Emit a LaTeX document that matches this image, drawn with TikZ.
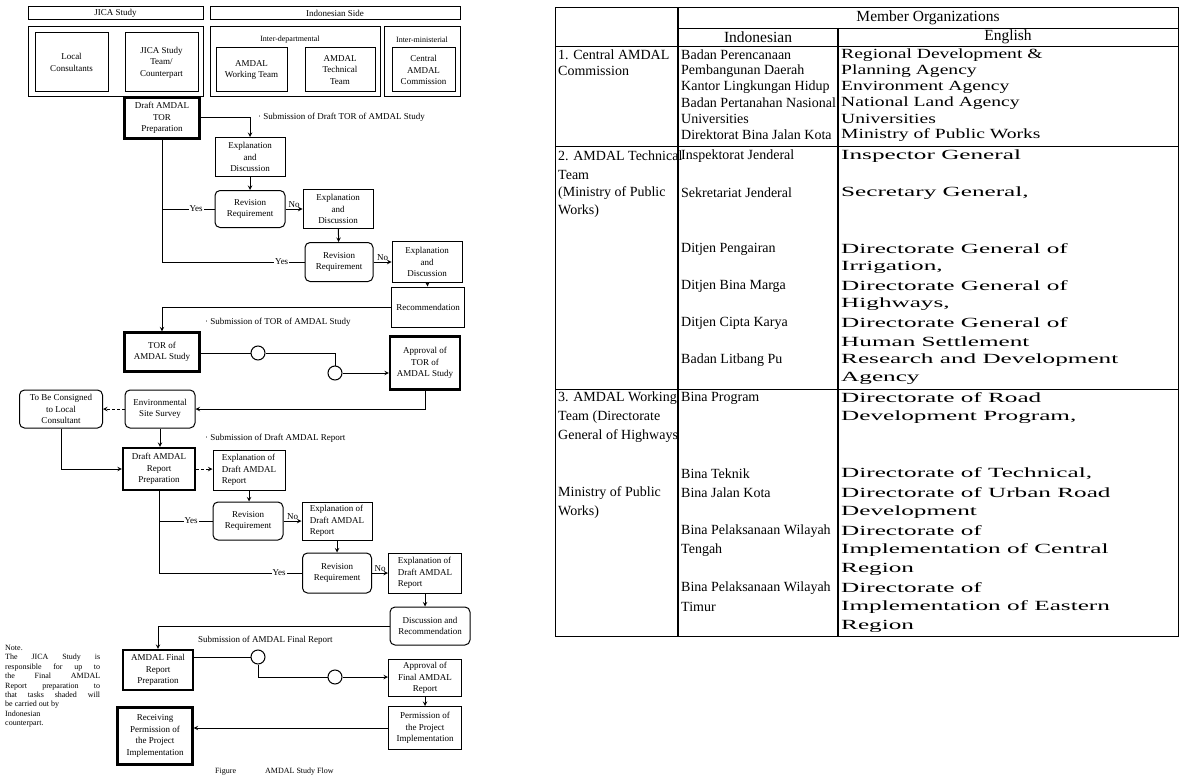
\documentclass[tikz,border=0pt]{standalone}
\usepackage{fontspec}
\setmainfont{Liberation Serif}
\newfontfamily\engfont[FakeStretch=1.8]{Liberation Serif}
\newfontfamily\engfontone[FakeStretch=1.4]{Liberation Serif}
\usetikzlibrary{arrows,positioning,calc}

\newcommand{\flowfont}{\fontsize{9}{11.5}\selectfont}
\newcommand{\smallflow}{\fontsize{8}{9.4}\selectfont}
\newcommand{\tabfont}{\fontsize{14}{16}\selectfont}

\begin{document}
\begin{tikzpicture}[x=1pt, y=-1pt, >=stealth,
    box/.style={draw, line width=1pt, align=center, inner sep=1pt, font=\flowfont},
    rbox/.style={box, rounded corners=5pt},
    tbox/.style={box, line width=2.2pt},
    joint/.style={draw, circle, line width=1pt, minimum size=14pt, inner sep=0pt},
    link/.style={line width=1pt},
    yes/.style={fill=white, inner sep=1pt, font=\flowfont},
    no/.style={above, inner sep=1pt, font=\flowfont},
    lbl/.style={anchor=west, inner sep=0pt, font=\flowfont},
    cell/.style={anchor=west, inner sep=0pt, font=\tabfont},
    ecell/.style={cell, font=\tabfont\engfont},
    ecellone/.style={cell, font=\tabfont\engfontone},
    head/.style={inner sep=0pt, font=\fontsize{15.5}{17}\selectfont}]
    \useasboundingbox (0,0) rectangle (1181,781);

    % Organisation headers
    \node[box, minimum width=175pt, minimum height=13pt] (jicahd) at (115.5,13.5) {JICA Study};
    \node[box, minimum width=250pt, minimum height=13pt] (indohd) at (335,13.5) {Indonesian Side};
    \node[box, minimum width=175pt, minimum height=70pt] (jicagrp) at (115.5,62) {};
    \node[box, minimum width=170pt, minimum height=70pt] (deptgrp) at (295,62) {};
    \node[box, minimum width=76pt, minimum height=70pt] (minigrp) at (422,62) {};
    \node[font=\smallflow] (deptlbl) at (290,40) {Inter-departmental};
    \node[font=\smallflow] (minilbl) at (422,40) {Inter-ministerial};
    \node[box, minimum width=73pt, minimum height=59pt] (locc) at (71.5,62.5) {Local\\Consultants};
    \node[box, minimum width=73pt, minimum height=59pt] (jicat) at (161.5,62.5) {JICA Study\\Team/\\Counterpart};
    \node[box, minimum width=71pt, minimum height=44pt] (awt) at (251.5,70) {AMDAL\\Working Team};
    \node[box, minimum width=70pt, minimum height=44pt] (att) at (340,70) {AMDAL\\Technical\\Team};
    \node[box, minimum width=63pt, minimum height=44pt] (cac) at (423.5,70) {Central\\AMDAL\\Commission};

    % TOR stage
    \node[tbox, minimum width=75pt, minimum height=41pt] (tordraft) at (162,118) {Draft AMDAL\\TOR\\Preparation};
    \node[box, minimum width=70pt, minimum height=39pt] (expl1) at (250,157) {Explanation\\and\\Discussion};
    \node[rbox, minimum width=70pt, minimum height=37pt] (rev1) at (250,209) {Revision\\Requirement};
    \node[box, minimum width=70pt, minimum height=39pt] (expl2) at (338,209) {Explanation\\and\\Discussion};
    \node[rbox, minimum width=68pt, minimum height=39pt] (rev2) at (339,262) {Revision\\Requirement};
    \node[box, minimum width=70pt, minimum height=41pt] (expl3) at (427,262) {Explanation\\and\\Discussion};
    \node[box, minimum width=73pt, minimum height=40pt] (recomm) at (428,307) {Recommendation};
    \node[tbox, minimum width=75pt, minimum height=39pt] (tor) at (162,352) {TOR of\\AMDAL Study};
    \node[joint] (c1) at (258,353) {};
    \node[joint] (c2) at (335,373) {};
    \node[tbox, minimum width=70pt, minimum height=53pt] (apptor) at (425,363) {Approval of\\TOR of\\AMDAL Study};
    \node[lbl] (subtor1) at (258,117) {· Submission of Draft TOR of AMDAL Study};
    \node[lbl] (subtor2) at (205,322) {· Submission of TOR of AMDAL Study};

    % Report stage
    \node[rbox, minimum width=70pt, minimum height=38pt] (envsurv) at (160,409) {Environmental\\Site Survey};
    \node[rbox, minimum width=83pt, minimum height=38pt] (consign) at (61,409) {To Be Consigned\\to Local\\Consultant};
    \node[tbox, minimum width=72pt, minimum height=42pt] (rptdraft) at (159,469) {Draft AMDAL\\Report\\Preparation};
    \node[box, minimum width=72pt, minimum height=40pt, align=left] (rexpl1) at (249,470) {Explanation of\\Draft AMDAL\\Report};
    \node[rbox, minimum width=70pt, minimum height=38pt] (rev3) at (248,521) {Revision\\Requirement};
    \node[box, minimum width=70pt, minimum height=38pt, align=left] (rexpl2) at (337,521) {Explanation of\\Draft AMDAL\\Report};
    \node[rbox, minimum width=69pt, minimum height=40pt] (rev4) at (337,573) {Revision\\Requirement};
    \node[box, minimum width=73pt, minimum height=40pt, align=left] (rexpl3) at (425,573) {Explanation of\\Draft AMDAL\\Report};
    \node[rbox, minimum width=80pt, minimum height=38pt] (discrec) at (430,626) {Discussion and\\Recommendation};
    \node[lbl] (subrpt) at (205,438) {· Submission of Draft AMDAL Report};

    % Final stage
    \node[tbox, minimum width=70pt, minimum height=40pt] (finrpt) at (158,670) {AMDAL Final\\Report\\Preparation};
    \node[joint] (c3) at (258,657) {};
    \node[joint] (c4) at (335,677) {};
    \node[box, minimum width=73pt, minimum height=37pt] (appfin) at (425,678) {Approval of\\Final AMDAL\\Report};
    \node[box, minimum width=73pt, minimum height=43pt] (permit) at (425,728) {Permission of\\the Project\\Implementation};
    \node[tbox, minimum width=75pt, minimum height=57pt] (recv) at (155,736) {Receiving\\Permission of\\the Project\\Implementation};
    \node[lbl] (subfin) at (198,640) {Submission of AMDAL Final Report};

    % Connectors
    \draw[link,->] (tordraft.east) -| (expl1.north);
    \draw[link,->] (expl1) -- (rev1);
    \draw[link] (rev1.west) -- node[yes, pos=0.35]{Yes} (rev1.west -| tordraft.south);
    \draw[link] (tordraft.south) |- node[yes, pos=0.92]{Yes} (rev2.west);
    \draw[link,->] (rev1.east) -- node[no]{No} (expl2.west);
    \draw[link,->] (expl2) -- (rev2);
    \draw[link,->] (rev2.east) -- node[no]{No} (expl3.west);
    \draw[link,->] (expl3) -- (recomm);
    \draw[link,->] (recomm.west) -| (tor.north);
    \draw[link] (tor.east |- c1) -- (c1);
    \draw[link] (c1.east) -| (c2.north);
    \draw[link,->] (c2.east) -- (apptor.west |- c2);
    \draw[link,->] (apptor.south) |- (envsurv.east);
    \draw[link,->,densely dashed] (envsurv.west) -- (consign.east);
    \draw[link,->] (consign.south) |- (rptdraft.west);
    \draw[link,->] (envsurv.south) -- (envsurv.south |- rptdraft.north);
    \draw[link,->,densely dashed] (rptdraft.east) -- (rexpl1.west |- rptdraft.east);
    \draw[link,->] (rexpl1.south) -- (rexpl1.south |- rev3.north);
    \draw[link] (rev3.west) -- node[yes, pos=0.4]{Yes} (rev3.west -| rptdraft.south);
    \draw[link] (rptdraft.south) |- node[yes, pos=0.92]{Yes} (rev4.west);
    \draw[link,->] (rev3.east) -- node[no]{No} (rexpl2.west);
    \draw[link,->] (rexpl2.south) -- (rexpl2.south |- rev4.north);
    \draw[link,->] (rev4.east) -- node[no]{No} (rexpl3.west);
    \draw[link,->] (rexpl3.south) -- (rexpl3.south |- discrec.north);
    \draw[link,->] (discrec.west) -| (finrpt.north);
    \draw[link] (finrpt.east |- c3) -- (c3);
    \draw[link] (c3.south) |- (c4.west);
    \draw[link,->] (c4.east) -- (appfin.west |- c4);
    \draw[link,->] (appfin.south) -- (appfin.south |- permit.north);
    \draw[link,->] (permit.west) -- (recv.east |- permit.west);

    % Note and caption
    \node[anchor=north west, inner sep=0pt, text width=95pt, align=justify, font=\smallflow] (note) at (5,645)
        {Note.\\The JICA Study is\linebreak responsible for up to\linebreak the Final AMDAL\linebreak Report preparation to\linebreak that tasks shaded will\linebreak be carried out by\\Indonesian\\counterpart.};
    \node[lbl, font=\smallflow] (figlbl) at (215,772) {Figure};
    \node[lbl, font=\smallflow] (figttl) at (265,772) {AMDAL Study Flow};

    % Table of member organizations
    \draw[line width=1pt] (555,8) rectangle (1178,636);
    \draw[line width=1.5pt] (678,8) -- (678,636);
    \draw[line width=1.5pt] (838,28) -- (838,636);
    \draw[line width=0.8pt] (678,28) -- (1178,28);
    \draw[line width=0.8pt] (555,46) -- (1178,46);
    \draw[line width=0.8pt] (555,146) -- (1178,146);
    \draw[line width=0.8pt] (555,389) -- (1178,389);

    \node[head] (hmem) at (928,18) {Member Organizations};
    \node[head] (hind) at (758,37) {Indonesian};
    \node[head] (heng) at (1008,37) {English};

    % row 1
    \node[cell] (a1) at (558,55) {1. Central AMDAL};
    \node[cell] (a2) at (558,71) {Commission};
    \node[cell] (b1) at (681,55) {Badan Perencanaan};
    \node[cell] (b2) at (681,71) {Pembangunan Daerah};
    \node[cell] (b3) at (681,87) {Kantor Lingkungan Hidup};
    \node[cell] (b4) at (681,103) {Badan Pertanahan Nasional};
    \node[cell] (b5) at (681,119) {Universities};
    \node[cell] (b6) at (681,135) {Direktorat Bina Jalan Kota};
    \node[ecellone] (e1) at (841,55) {Regional Development \&};
    \node[ecellone] (e2) at (841,71) {Planning Agency};
    \node[ecellone] (e3) at (841,87) {Environment Agency};
    \node[ecellone] (e4) at (841,103) {National Land Agency};
    \node[ecellone] (e5) at (841,119) {Universities};
    \node[ecellone] (e6) at (841,135) {Ministry of Public Works};

    % row 2
    \node[cell] (a3) at (558,156) {2. AMDAL Technical};
    \node[cell] (a4) at (558,174.5) {Team};
    \node[cell] (a5) at (558,193) {(Ministry of Public};
    \node[cell] (a6) at (558,211.5) {Works)};
    \node[cell] (b7) at (681,156) {Inspektorat Jenderal};
    \node[cell] (b8) at (681,193) {Sekretariat Jenderal};
    \node[cell] (b9) at (681,249) {Ditjen Pengairan};
    \node[cell] (b10) at (681,286) {Ditjen Bina Marga};
    \node[cell] (b11) at (681,323) {Ditjen Cipta Karya};
    \node[cell] (b12) at (681,360) {Badan Litbang Pu};
    \node[ecell] (e7) at (841,156) {Inspector General};
    \node[ecell] (e8) at (841,193) {Secretary General,};
    \node[ecell] (e9) at (841,249) {Directorate General of};
    \node[ecell] (e10) at (841,267.5) {Irrigation,};
    \node[ecell] (e11) at (841,286) {Directorate General of};
    \node[ecell] (e12) at (841,304.5) {Highways,};
    \node[ecell] (e13) at (841,323) {Directorate General of};
    \node[ecell] (e14) at (841,341.5) {Human Settlement};
    \node[ecell] (e15) at (841,360) {Research and Development};
    \node[ecell] (e16) at (841,378.5) {Agency};

    % row 3
    \node[cell] (a7) at (558,398) {3. AMDAL Working};
    \node[cell] (a8) at (558,417) {Team (Directorate};
    \node[cell] (a9) at (558,436) {General of Highways};
    \node[cell] (a10) at (558,493) {Ministry of Public};
    \node[cell] (a11) at (558,512) {Works)};
    \node[cell] (b13) at (681,398) {Bina Program};
    \node[cell] (b14) at (681,474) {Bina Teknik};
    \node[cell] (b15) at (681,493) {Bina Jalan Kota};
    \node[cell] (b16) at (681,531) {Bina Pelaksanaan Wilayah};
    \node[cell] (b17) at (681,550) {Tengah};
    \node[cell] (b18) at (681,588) {Bina Pelaksanaan Wilayah};
    \node[cell] (b19) at (681,607) {Timur};
    \node[ecell] (e17) at (841,398) {Directorate of Road};
    \node[ecell] (e18) at (841,417) {Development Program,};
    \node[ecell] (e19) at (841,474) {Directorate of Technical,};
    \node[ecell] (e20) at (841,493) {Directorate of Urban Road};
    \node[ecell] (e21) at (841,512) {Development};
    \node[ecell] (e22) at (841,531) {Directorate of};
    \node[ecell] (e23) at (841,550) {Implementation of Central};
    \node[ecell] (e24) at (841,569) {Region};
    \node[ecell] (e25) at (841,588) {Directorate of};
    \node[ecell] (e26) at (841,607) {Implementation of Eastern};
    \node[ecell] (e27) at (841,626) {Region};
\end{tikzpicture}
\end{document}
